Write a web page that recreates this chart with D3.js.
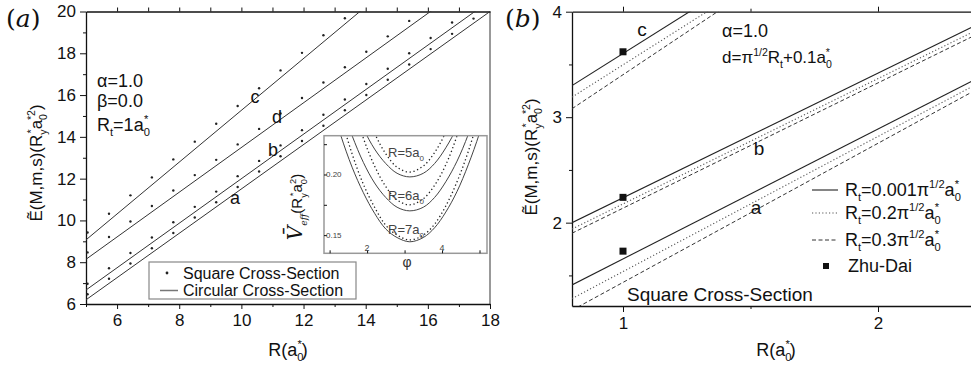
<!DOCTYPE html>
<html>
<head>
<meta charset="utf-8">
<script src="https://cdn.jsdelivr.net/npm/d3@7"></script>
<style>
  body { margin: 0; background: #fff; }
  svg { display: block; font-family: "Liberation Sans", Arial, sans-serif; }
</style>
</head>
<body>
<div id="root"></div>
<script>
// ---- panel (a) data ----
const rSquare = [5.05, 5.74, 6.43, 7.12, 7.81, 8.5, 9.19, 9.88, 10.57, 11.26, 11.95, 12.64, 13.33, 14.02, 14.71, 15.4, 16.09, 16.78, 17.47];
const squareC = [9.42, 10.32, 11.2, 12.06, 12.92, 13.77, 14.63, 15.48, 16.33, 17.18, 18.02, 18.86, 19.68];
const squareD = [8.47, 9.21, 9.95, 10.69, 11.43, 12.17, 12.9, 13.64, 14.38, 15.12, 15.86, 16.6, 17.33, 18.07, 18.81, 19.55];
const squareB = [6.97, 7.71, 8.44, 9.18, 9.91, 10.65, 11.38, 12.12, 12.85, 13.59, 14.32, 15.06, 15.79, 16.53, 17.26, 18.0, 18.73, 19.47];
const squareA = [6.47, 7.21, 7.94, 8.67, 9.4, 10.14, 10.87, 11.6, 12.34, 13.07, 13.8, 14.53, 15.27, 16.0, 16.73, 17.46, 18.2, 18.93, 19.66];

const rCircle = [5, 18];
const circleC = [9.07, 25.19];
const circleD = [8.14, 22.05];
const circleB = [6.67, 20.52];
const circleA = [6.2, 20.0];

const xTicksA = [6, 8, 10, 12, 14, 16, 18];
const xMinorA = [5, 7, 9, 11, 13, 15, 17];
const yTicksA = [6, 8, 10, 12, 14, 16, 18, 20];
const yMinorA = [7, 9, 11, 13, 15, 17, 19];

// inset of panel (a)
const phi = [1.0, 1.3, 1.6, 1.9, 2.2, 2.5, 2.8, 3.14, 3.5, 3.8, 4.1, 4.4, 4.7, 5.0, 5.3];
const vCirc5 = [0.317, 0.286, 0.260, 0.238, 0.221, 0.209, 0.201, 0.198, 0.201, 0.209, 0.222, 0.239, 0.261, 0.288, 0.319];
const vCirc6 = [0.289, 0.258, 0.232, 0.210, 0.193, 0.181, 0.173, 0.170, 0.173, 0.181, 0.194, 0.211, 0.233, 0.260, 0.291];
const vCirc7 = [0.263, 0.232, 0.206, 0.185, 0.168, 0.155, 0.148, 0.1445, 0.148, 0.156, 0.169, 0.186, 0.208, 0.234, 0.265];
const vSq5 = [0.367, 0.324, 0.287, 0.257, 0.234, 0.217, 0.206, 0.202, 0.207, 0.218, 0.235, 0.259, 0.290, 0.327, 0.370];
const vSq6 = [0.340, 0.297, 0.260, 0.230, 0.207, 0.190, 0.179, 0.175, 0.180, 0.191, 0.208, 0.232, 0.263, 0.300, 0.343];
const vSq7 = [0.283, 0.248, 0.217, 0.192, 0.173, 0.158, 0.150, 0.146, 0.150, 0.159, 0.174, 0.194, 0.219, 0.250, 0.286];
const insetXTicks = [1, 2, 3, 4, 5];
const insetXLabels = [2, 4];
const insetYTicks = [0.15, 0.175, 0.2, 0.225];
const insetYLabels = [0.15, 0.2];

// ---- panel (b) data ----
const rB = [0.8, 2.4];
const cSolid = [3.30, 5.73];
const cDotted = [3.19, 5.64];
const cDashed = [3.08, 5.66];
const bSolid = [2.00, 3.89];
const bDotted = [1.94, 3.84];
const bDashed = [1.90, 3.80];
const aSolid = [1.41, 3.38];
const aDotted = [1.28, 3.33];
const aDashed = [1.17, 3.28];
const zhuDaiR = [1, 1, 1];
const zhuDaiE = [3.62, 2.24, 1.73];

const xTicksB = [1, 2];
const xMinorB = [1.5];
const yTicksB = [2, 3, 4];
const yMinorB = [1.5, 2.5, 3.5];

const W = 971, H = 366;
const ink = '#111';

const svg = d3.select('#root').append('svg')
  .attr('width', W)
  .attr('height', H);

// text with sub/superscripts
function rich(g, x, y, parts, size, opts = {}) {
  const t = g.append('text')
    .attr('x', x)
    .attr('y', y)
    .attr('font-size', size)
    .attr('fill', opts.fill || ink);
  if (opts.anchor) t.attr('text-anchor', opts.anchor);
  if (opts.rotate) t.attr('transform', `rotate(-90, ${x}, ${y})`);
  let cur = 0;
  parts.forEach(p => {
    if (typeof p === 'string') p = { t: p };
    const shift = p.sub ? size * 0.3 : p.sup ? -size * 0.42 : 0;
    const s = t.append('tspan').text(p.t).attr('dy', shift - cur);
    if (p.sub || p.sup) s.attr('font-size', size * 0.62);
    if (p.size) s.attr('font-size', p.size);
    if (p.dx) s.attr('dx', p.dx);
    if (p.italic) s.attr('font-style', 'italic');
    if (p.font) s.attr('font-family', p.font);
    cur = shift;
  });
  return t;
}

function styleAxis(g, size) {
  g.selectAll('text').attr('font-size', size).attr('fill', ink)
    .attr('font-family', '"Liberation Sans", Arial, sans-serif');
  g.selectAll('line').attr('stroke', ink);
  g.select('.domain').attr('stroke', ink).attr('stroke-width', 1.3);
}

function minor(g, axis) {
  g.call(axis);
  g.select('.domain').remove();
  g.selectAll('line').attr('stroke', ink);
}

const intFmt = d3.format('d');

// ================= panel (a) =================
const xA = d3.scaleLinear().domain([5, 18]).range([86, 490]);
const yA = d3.scaleLinear().domain([6, 20]).range([304, 11.5]);

svg.append('clipPath').attr('id', 'clipA')
  .append('rect')
    .attr('x', xA(5)).attr('y', yA(20))
    .attr('width', xA(18) - xA(5)).attr('height', yA(6) - yA(20));

// right frame (gray) and top frame
svg.append('line')
  .attr('x1', xA(18)).attr('x2', xA(18))
  .attr('y1', yA(20)).attr('y2', yA(6))
  .attr('stroke', '#999').attr('stroke-width', 2);

svg.append('g')
  .attr('transform', `translate(0,${yA(20)})`)
  .call(d3.axisTop(xA).tickValues(d3.range(6, 18)).tickSize(4).tickFormat('').tickSizeOuter(0))
  .call(styleAxis, 16);

svg.append('g')
  .attr('transform', `translate(0,${yA(6)})`)
  .call(d3.axisBottom(xA).tickValues(xTicksA).tickFormat(intFmt).tickSize(5).tickPadding(5).tickSizeOuter(0))
  .call(styleAxis, 17);
svg.append('g')
  .attr('transform', `translate(0,${yA(6)})`)
  .call(minor, d3.axisBottom(xA).tickValues(xMinorA).tickSize(3).tickFormat(''));

svg.append('g')
  .attr('transform', `translate(${xA(5)},0)`)
  .call(d3.axisLeft(yA).tickValues(yTicksA).tickFormat(intFmt).tickSize(6).tickPadding(4).tickSizeOuter(0))
  .call(styleAxis, 17);
svg.append('g')
  .attr('transform', `translate(${xA(5)},0)`)
  .call(minor, d3.axisLeft(yA).tickValues(yMinorA).tickSize(3).tickFormat(''));

const plotA = svg.append('g').attr('clip-path', 'url(#clipA)');

const lineA = d3.line()
  .x(d => xA(d[0]))
  .y(d => yA(d[1]));

[circleC, circleD, circleB, circleA].forEach(vals => {
  plotA.append('path')
    .datum(rCircle.map((r, i) => [r, vals[i]]))
    .attr('d', lineA)
    .attr('fill', 'none')
    .attr('stroke', '#333')
    .attr('stroke-width', 1);
});

[squareC, squareD, squareB, squareA].forEach(vals => {
  plotA.selectAll(null)
    .data(vals.map((v, i) => [rSquare[i], v]))
    .enter()
    .append('circle')
      .attr('cx', d => xA(d[0]))
      .attr('cy', d => yA(d[1]))
      .attr('r', 1.2)
      .attr('fill', '#222');
});

// curve labels
[['c', 255, 97], ['d', 277, 117], ['b', 273, 150], ['a', 235, 198]].forEach(d => {
  svg.append('text')
    .attr('x', d[1]).attr('y', d[2] + 6)
    .attr('text-anchor', 'middle')
    .attr('font-size', 18)
    .attr('fill', ink)
    .text(d[0]);
});

rich(svg, 97, 87, ['α=1.0'], 18);
rich(svg, 97, 107, ['β=0.0'], 18);
rich(svg, 97, 131, ['R', { t: 't', sub: 1 }, '=1a', { t: '0', sub: 1 }, { t: '*', sup: 1, dx: -6 }], 18);

// legend (a)
svg.append('rect')
  .attr('x', 149).attr('y', 262)
  .attr('width', 207).attr('height', 37)
  .attr('fill', '#fff')
  .attr('stroke', '#888')
  .attr('stroke-width', 1.2);
svg.append('circle')
  .attr('cx', 167).attr('cy', 273).attr('r', 1.4).attr('fill', '#222');
svg.append('line')
  .attr('x1', 160).attr('x2', 178)
  .attr('y1', 290.5).attr('y2', 290.5)
  .attr('stroke', '#777').attr('stroke-width', 1.5);
rich(svg, 183, 279, ['Square Cross-Section'], 16);
rich(svg, 183, 296, ['Circular Cross-Section'], 16);

// axis titles (a)
rich(svg, 42, 163, ['Ẽ(M,m,s)(R', { t: 'y', sub: 1 }, { t: '*', sup: 1, dx: -4 }, 'a',
  { t: '0', sub: 1 }, { t: '*2', sup: 1, dx: -6 }, ')'], 17, { anchor: 'middle', rotate: true });
rich(svg, 288, 356, ['R(a', { t: '0', sub: 1 }, { t: '*', sup: 1, dx: -6 }, ')'], 18, { anchor: 'middle' });

rich(svg, 6, 27, [{ t: '(', font: '"DejaVu Serif", serif' },
  { t: 'a', italic: 1, font: '"DejaVu Serif", serif' },
  { t: ')', font: '"DejaVu Serif", serif' }], 25);

// ---------- inset ----------
const xI = d3.scaleLinear().domain([0.85, 5.2]).range([324, 487]);
const yI = d3.scaleLinear().domain([0.135, 0.232]).range([253.3, 135.7]);

svg.append('clipPath').attr('id', 'clipI')
  .append('rect')
    .attr('x', 324).attr('y', 135.7)
    .attr('width', 163).attr('height', 117.6);

svg.append('rect')
  .attr('x', 324).attr('y', 135.7)
  .attr('width', 163).attr('height', 117.6)
  .attr('fill', '#fff');

const plotI = svg.append('g').attr('clip-path', 'url(#clipI)');
const lineI = d3.line()
  .x(d => xI(d[0]))
  .y(d => yI(d[1]))
  .curve(d3.curveCatmullRom);

[vCirc5, vCirc6, vCirc7].forEach(vals => {
  plotI.append('path')
    .datum(phi.map((p, i) => [p, vals[i]]))
    .attr('d', lineI)
    .attr('fill', 'none')
    .attr('stroke', '#444')
    .attr('stroke-width', 1);
});
[vSq5, vSq6, vSq7].forEach(vals => {
  plotI.append('path')
    .datum(phi.map((p, i) => [p, vals[i]]))
    .attr('d', lineI)
    .attr('fill', 'none')
    .attr('stroke', '#222')
    .attr('stroke-width', 1.3)
    .attr('stroke-dasharray', '1.3,2.6');
});

svg.append('rect')
  .attr('x', 324).attr('y', 135.7)
  .attr('width', 163).attr('height', 117.6)
  .attr('fill', 'none')
  .attr('stroke', '#999')
  .attr('stroke-width', 1.5);

svg.append('g')
  .attr('transform', 'translate(0,253.3)')
  .call(minor, d3.axisTop(xI).tickValues(insetXTicks).tickSize(3).tickFormat(''));
svg.append('g')
  .attr('transform', 'translate(324,0)')
  .call(minor, d3.axisRight(yI).tickValues(insetYTicks).tickSize(3).tickFormat(''));

insetXLabels.forEach(v => {
  svg.append('text')
    .attr('x', xI(v)).attr('y', 251)
    .attr('text-anchor', 'middle')
    .attr('font-size', 9).attr('fill', '#444')
    .text(v);
});
insetYLabels.forEach(v => {
  svg.append('text')
    .attr('x', 326).attr('y', yI(v) + 3)
    .attr('font-size', 8).attr('fill', '#444')
    .text(d3.format('.2f')(v));
});

[['5', 151.7], ['6', 195], ['7', 229]].forEach(d => {
  rich(svg, 388, d[1] + 5, ['R=' + d[0] + 'a', { t: '0', sub: 1 }], 13, { fill: '#444' });
});

rich(svg, 407, 267, ['φ'], 14, { anchor: 'middle', fill: '#333' });
rich(svg, 302, 207, [{ t: 'V̄', italic: 1, font: '"DejaVu Serif", serif', size: 20 },
  { t: 'eff', italic: 1, font: '"DejaVu Serif", serif', sub: 1 },
  '(R', { t: 'y', sub: 1 }, { t: '*', sup: 1, dx: -3 }, 'a',
  { t: '0', sub: 1 }, { t: '2', sup: 1, dx: -5 }, ')'], 15, { anchor: 'middle', rotate: true });

// ================= panel (b) =================
const xB = d3.scaleLinear().domain([0.8, 2.4]).range([572, 980]);
const yB = d3.scaleLinear().domain([1.21, 4]).range([306, 11.7]);

svg.append('clipPath').attr('id', 'clipB')
  .append('rect')
    .attr('x', xB(0.8)).attr('y', yB(4))
    .attr('width', xB(2.4) - xB(0.8)).attr('height', yB(1.21) - yB(4));

svg.append('g')
  .attr('transform', `translate(0,${yB(4)})`)
  .call(d3.axisTop(xB).tickValues(xTicksB).tickSize(5).tickFormat('').tickSizeOuter(0))
  .call(styleAxis, 16);
svg.append('g')
  .attr('transform', `translate(0,${yB(4)})`)
  .call(minor, d3.axisTop(xB).tickValues(xMinorB).tickSize(3).tickFormat(''));

svg.append('g')
  .attr('transform', `translate(0,${yB(1.21)})`)
  .call(d3.axisBottom(xB).tickValues(xTicksB).tickFormat(intFmt).tickSize(6).tickPadding(5).tickSizeOuter(0))
  .call(styleAxis, 17);
svg.append('g')
  .attr('transform', `translate(0,${yB(1.21)})`)
  .call(minor, d3.axisBottom(xB).tickValues(xMinorB).tickSize(3).tickFormat(''));

svg.append('g')
  .attr('transform', `translate(${xB(0.8)},0)`)
  .call(d3.axisLeft(yB).tickValues(yTicksB).tickFormat(intFmt).tickSize(6).tickPadding(4).tickSizeOuter(0))
  .call(styleAxis, 17);
svg.append('g')
  .attr('transform', `translate(${xB(0.8)},0)`)
  .call(minor, d3.axisLeft(yB).tickValues(yMinorB).tickSize(3).tickFormat(''));

const plotB = svg.append('g').attr('clip-path', 'url(#clipB)');
const lineB = d3.line()
  .x(d => xB(d[0]))
  .y(d => yB(d[1]));

const styleB = {
  solid: { dash: null, color: '#222', width: 1.1 },
  dotted: { dash: '1.2,2.2', color: '#555', width: 1.1 },
  dashed: { dash: '4,2.5', color: '#333', width: 1 }
};

[
  [cSolid, 'solid'], [cDotted, 'dotted'], [cDashed, 'dashed'],
  [bSolid, 'solid'], [bDotted, 'dotted'], [bDashed, 'dashed'],
  [aSolid, 'solid'], [aDotted, 'dotted'], [aDashed, 'dashed']
].forEach(([vals, kind]) => {
  const st = styleB[kind];
  plotB.append('path')
    .datum(rB.map((r, i) => [r, vals[i]]))
    .attr('d', lineB)
    .attr('fill', 'none')
    .attr('stroke', st.color)
    .attr('stroke-width', st.width)
    .attr('stroke-dasharray', st.dash);
});

plotB.selectAll('.zd')
  .data(zhuDaiR.map((r, i) => [r, zhuDaiE[i]]))
  .enter()
  .append('rect')
    .attr('class', 'zd')
    .attr('x', d => xB(d[0]) - 3.5)
    .attr('y', d => yB(d[1]) - 3.5)
    .attr('width', 7).attr('height', 7)
    .attr('fill', '#111');

[['c', 642, 30], ['b', 759, 149], ['a', 756, 208]].forEach(d => {
  svg.append('text')
    .attr('x', d[1]).attr('y', d[2] + 6)
    .attr('text-anchor', 'middle')
    .attr('font-size', 19)
    .attr('fill', ink)
    .text(d[0]);
});

rich(svg, 722, 37, ['α=1.0'], 18);
rich(svg, 722, 63, ['d=π', { t: '1/2', sup: 1 }, 'R', { t: 't', sub: 1 }, '+0.1a',
  { t: '0', sub: 1 }, { t: '*', sup: 1, dx: -6 }], 17);
rich(svg, 627, 301, ['Square Cross-Section'], 19);

// legend (b)
const legendB = [
  { kind: 'solid', y: 190, parts: ['R', { t: 't', sub: 1 }, '=0.001π', { t: '1/2', sup: 1 }, 'a', { t: '0', sub: 1 }, { t: '*', sup: 1, dx: -6 }] },
  { kind: 'dotted', y: 213, parts: ['R', { t: 't', sub: 1 }, '=0.2π', { t: '1/2', sup: 1 }, 'a', { t: '0', sub: 1 }, { t: '*', sup: 1, dx: -6 }] },
  { kind: 'dashed', y: 240, parts: ['R', { t: 't', sub: 1 }, '=0.3π', { t: '1/2', sup: 1 }, 'a', { t: '0', sub: 1 }, { t: '*', sup: 1, dx: -6 }] }
];
legendB.forEach(d => {
  const st = styleB[d.kind];
  svg.append('line')
    .attr('x1', 812).attr('x2', 838)
    .attr('y1', d.y).attr('y2', d.y)
    .attr('stroke', st.color)
    .attr('stroke-width', st.width)
    .attr('stroke-dasharray', st.dash);
  rich(svg, 845, d.y + 6, d.parts, 18);
});
svg.append('rect')
  .attr('x', 823).attr('y', 263).attr('width', 6).attr('height', 6).attr('fill', '#111');
rich(svg, 848, 272, ['Zhu-Dai'], 18);

// axis titles (b)
rich(svg, 537, 157, ['Ẽ(M,m,s)(R', { t: 'y', sub: 1 }, { t: '*', sup: 1, dx: -4 }, 'a',
  { t: '0', sub: 1 }, { t: '*2', sup: 1, dx: -6 }, ')'], 17, { anchor: 'middle', rotate: true });
rich(svg, 776, 356, ['R(a', { t: '0', sub: 1 }, { t: '*', sup: 1, dx: -6 }, ')'], 18, { anchor: 'middle' });

rich(svg, 505, 27, [{ t: '(', font: '"DejaVu Serif", serif' },
  { t: 'b', italic: 1, font: '"DejaVu Serif", serif' },
  { t: ')', font: '"DejaVu Serif", serif' }], 25);
</script>
</body>
</html>
